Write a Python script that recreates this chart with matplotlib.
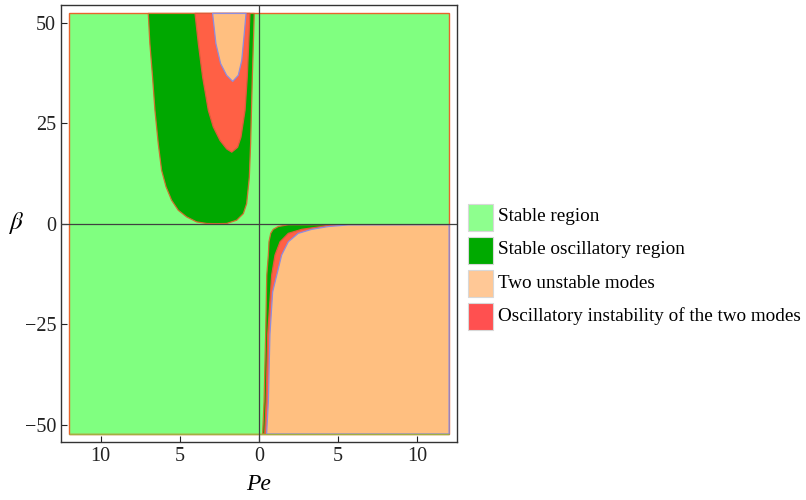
import matplotlib.pyplot as plt
from matplotlib.patches import Rectangle, Polygon

plt.rcParams['font.family'] = ['Liberation Serif', 'DejaVu Serif']
plt.rcParams['mathtext.fontset'] = 'stix'

# plotted domain
pe_min, pe_max = -12.0, 12.0
beta_min, beta_max = -52.3, 52.3

# upper-left tongue: stable oscillatory region (outer U)
osc_u_pe = [-6.99, -6.89, -6.72, -6.57, -6.36, -6.15, -5.87, -5.52, -5.1, -4.57, -3.94,
            -3.3, -2.7, -2.04, -1.41, -0.99, -0.78, -0.61, -0.53, -0.42, -0.3]
osc_u_beta = [52.3, 44.8, 36.5, 28.2, 19.9, 13.3, 9.2, 5.85, 3.36, 1.7, 0.45,
              0.05, 0.0, 0.05, 0.87, 2.5, 5.0, 11.6, 19.9, 36.5, 52.3]

# oscillatory instability inside the tongue
inst_u_pe = [-4.04, -3.83, -3.56, -3.2, -2.89, -2.46, -2.04, -1.72, -1.35, -1.14,
             -0.88, -0.74, -0.57]
inst_u_beta = [52.3, 44.8, 36.5, 28.2, 24.1, 20.7, 18.6, 17.8, 19.0, 21.5,
               28.2, 36.5, 52.3]

# two unstable modes at the top of the tongue
unst_u_pe = [-2.93, -2.72, -2.42, -2.04, -1.66, -1.31, -1.09, -0.95, -0.82]
unst_u_beta = [52.3, 44.8, 39.8, 36.9, 35.4, 36.9, 40.6, 46.4, 52.3]

# lower-right quadrant boundaries
osc_l_pe = [0.23, 0.32, 0.42, 0.49, 0.59, 0.63, 0.74, 0.9, 1.22, 1.85, 4.3]
osc_l_beta = [-52.3, -44.25, -27.6, -12.8, -7.8, -4.5, -2.4, -1.4, -0.7, -0.25, -0.25]

inst_l_pe = [0.36, 0.45, 0.55, 0.8, 1.01, 1.33, 1.85, 2.7, 3.96, 4.5]
inst_l_beta = [-52.3, -44.25, -27.6, -12.8, -7.8, -4.5, -2.4, -1.4, -0.7, -0.3]

unst_l_pe = [0.48, 0.59, 0.69, 0.86, 1.12, 1.43, 1.85, 2.48, 3.33, 4.38, 5.64]
unst_l_beta = [-52.3, -44.25, -27.6, -17.0, -12.8, -7.8, -4.5, -2.4, -1.4, -0.7, -0.3]

xtick_pos = [-10, -5, 0, 5, 10]
xtick_lbl = ['10', '5', '0', '5', '10']
ytick_pos = [-50, -25, 0, 25, 50]
ytick_lbl = ['\u221250', '\u221225', '0', '25', '50']

legend_labels = ['Stable region', 'Stable oscillatory region', 'Two unstable modes',
                 'Oscillatory instability of the two modes']
legend_colors = ['#8eff8e', '#00aa00', '#ffc896', '#ff5050']

c_stable = '#80ff80'
c_osc = '#00a800'
c_unst = '#ffbf80'
c_inst = '#ff6045'

fig = plt.figure(figsize=(8.06, 5.0), dpi=100)
ax = fig.add_axes([61 / 806, 1 - 442 / 500, 396 / 806, 437 / 500])

ax.add_patch(Rectangle((pe_min, beta_min), pe_max - pe_min, beta_max - beta_min,
                       facecolor=c_stable, edgecolor='#e8642c', lw=1.0, zorder=1))


def region(pe, beta, color, edge, closing=()):
    pts = list(zip(pe, beta)) + list(closing)
    ax.add_patch(Polygon(pts, closed=True, facecolor=color, edgecolor=edge, lw=0.9,
                         joinstyle='round', zorder=2))


region(osc_u_pe, osc_u_beta, c_osc, '#d07030')
region(inst_u_pe, inst_u_beta, c_inst, '#e05a3a')
region(unst_u_pe, unst_u_beta, c_unst, '#8c8ce0')

corner = [(pe_max, -0.25), (pe_max, beta_min)]
region(osc_l_pe, osc_l_beta, c_osc, '#d07030', corner)
region(inst_l_pe, inst_l_beta, c_inst, '#e05a3a', corner)
region(unst_l_pe, unst_l_beta, c_unst, '#8c8ce0', corner)
ax.plot([pe_min, pe_max], [beta_min, beta_min], color='#a0b040', lw=1.0, zorder=3,
        solid_capstyle='butt')

# coordinate axes through the origin
ax.axhline(0, color='#404040', lw=0.9, zorder=5)
ax.axvline(0, color='#404040', lw=0.9, zorder=5)

ax.set_xlim(-12.5, 12.5)
ax.set_ylim(-54.3, 54.4)
ax.set_xticks(xtick_pos, xtick_lbl)
ax.set_yticks(ytick_pos, ytick_lbl)
ax.tick_params(direction='in', length=4, width=0.8, labelsize=14.5, colors='#222222')
for s in ax.spines.values():
    s.set_color('#333333')
    s.set_linewidth(1.0)

fig.text(259 / 806, 1 - 485 / 500, 'Pe', fontsize=17, style='italic', ha='center', va='center')
fig.text(16 / 806, 1 - 223 / 500, r'$\beta$', fontsize=18, ha='center', va='center')

# legend swatches and labels
box_tops = [204, 237, 270, 303]
for top, lbl, col in zip(box_tops, legend_labels, legend_colors):
    fig.add_artist(Rectangle((468 / 806, 1 - (top + 27) / 500), 25 / 806, 27 / 500,
                             transform=fig.transFigure, facecolor=col,
                             edgecolor='#d8d8d8', lw=0.8))
    fig.text(498 / 806, 1 - (top + 13) / 500, lbl, fontsize=13.8, ha='left', va='center')

fig.savefig('out.png', dpi=100)
